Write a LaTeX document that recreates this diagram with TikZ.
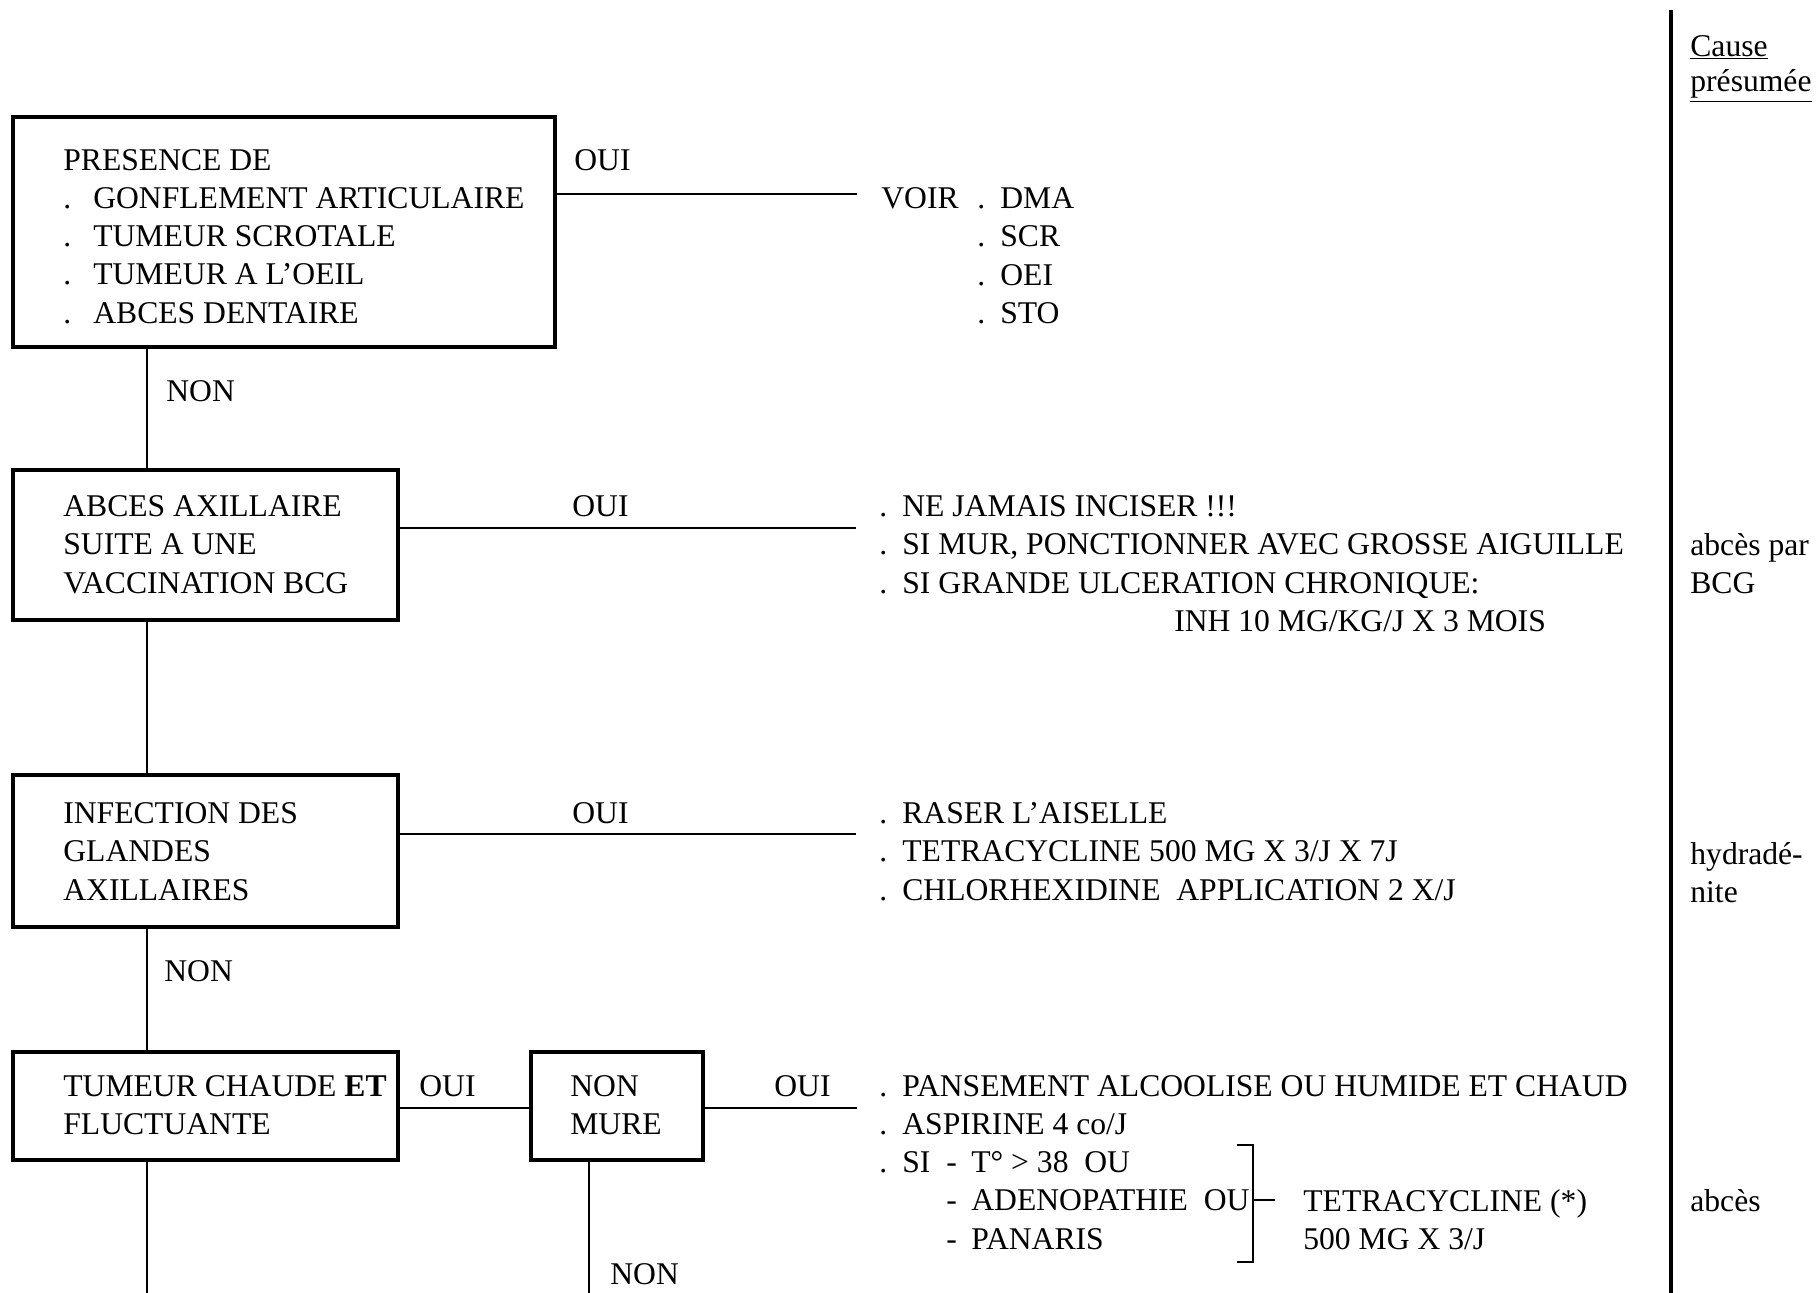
\documentclass[tikz,border=0pt]{standalone}
\usepackage{fontspec}
\setmainfont{Liberation Serif}
\usetikzlibrary{positioning}
\newcommand{\puce}[1][0.46cm]{\makebox[#1][l]{.}}
\newcommand{\bloc}[1]{\begin{tabular}[t]{@{}l@{}}#1\end{tabular}}

\begin{document}
\begin{tikzpicture}[x=0.02cm, y=-0.02cm,
  every node/.style={inner sep=0pt, font=\fontsize{18}{21.8}\selectfont},
  box/.style={draw, line width=2.2pt},
  txt/.style={anchor=base west},
  lien/.style={line width=1.6pt}]
  \clip (0,0) rectangle (1818,1292);

  % Presence de ...
  \node[box, minimum width=10.84cm, minimum height=4.6cm] (q1) at (284,232) {};
  \node[txt] (t1) at (63,170) {\bloc{PRESENCE DE\\ \puce[0.6cm]GONFLEMENT ARTICULAIRE\\ \puce[0.6cm]TUMEUR SCROTALE\\ \puce[0.6cm]TUMEUR A L'OEIL\\ \puce[0.6cm]ABCES DENTAIRE}};
  \node[txt] (oui1) at (574,170) {OUI};
  \coordinate (e1) at (857,194);
  \draw[lien] (q1.east |- e1) -- (e1);
  \node[txt] (voir) at (881,208.5) {VOIR};
  \node[txt] (r1) at (977,208.5) {\bloc{\puce DMA\\ \puce SCR\\ \puce OEI\\ \puce STO}};
  \coordinate (v1) at (147,0);
  \node[txt] (non1) at (166,401) {NON};

  % Abces axillaire
  \node[box, minimum width=7.7cm, minimum height=3cm] (q2) at (205.5,545) {};
  \draw[lien] (q1.south -| v1) -- (q2.north -| v1);
  \node[txt] (t2) at (63,516.5) {\bloc{ABCES AXILLAIRE\\ SUITE A UNE\\ VACCINATION BCG}};
  \node[txt] (oui2) at (572,516.5) {OUI};
  \coordinate (e2) at (856,528);
  \draw[lien] (q2.east |- e2) -- (e2);
  \node[txt] (r2) at (879,516.5) {\bloc{\puce NE JAMAIS INCISER !!!\\ \puce SI MUR, PONCTIONNER AVEC GROSSE AIGUILLE\\ \puce SI GRANDE ULCERATION CHRONIQUE:\\ \hspace*{5.9cm}INH 10 MG/KG/J X 3 MOIS}};

  % Infection des glandes
  \node[box, minimum width=7.7cm, minimum height=3.04cm] (q3) at (205.5,851) {};
  \draw[lien] (q2.south -| v1) -- (q3.north -| v1);
  \node[txt] (t3) at (63,823.5) {\bloc{INFECTION DES\\ GLANDES\\ AXILLAIRES}};
  \node[txt] (oui3) at (572,823.5) {OUI};
  \coordinate (e3) at (856,834);
  \draw[lien] (q3.east |- e3) -- (e3);
  \node[txt] (r3) at (879,823.5) {\bloc{\puce RASER L'AISELLE\\ \puce TETRACYCLINE 500 MG X 3/J X 7J\\ \puce CHLORHEXIDINE\ \ APPLICATION 2 X/J}};
  \node[txt] (non2) at (164,981) {NON};

  % Tumeur chaude
  \node[box, minimum width=7.7cm, minimum height=2.16cm] (q4) at (205.5,1106) {};
  \draw[lien] (q3.south -| v1) -- (q4.north -| v1);
  \node[txt] (t4) at (63,1096) {\bloc{TUMEUR CHAUDE \textbf{ET}\\ FLUCTUANTE}};
  \node[txt] (oui4) at (419,1096) {OUI};
  \node[box, minimum width=3.44cm, minimum height=2.16cm] (q5) at (617,1106) {};
  \node[txt] (t5) at (570,1096) {\bloc{NON\\ MURE}};
  \coordinate (h4) at (0,1108);
  \draw[lien] (q4.east |- h4) -- (q5.west |- h4);
  \node[txt] (oui5) at (774,1096) {OUI};
  \coordinate (e5) at (857,1108);
  \draw[lien] (q5.east |- h4) -- (e5);
  \node[txt] (r5) at (879,1096) {\bloc{\puce PANSEMENT ALCOOLISE OU HUMIDE ET CHAUD\\ \puce ASPIRINE 4 co/J\\ \puce\makebox[0.88cm][l]{SI}\makebox[0.5cm][l]{-}T° > 38\ \ OU\\ \hspace*{1.34cm}\makebox[0.5cm][l]{-}ADENOPATHIE\ \ OU\\ \hspace*{1.34cm}\makebox[0.5cm][l]{-}PANARIS}};
  \draw[lien] (1237,1145) -- (1253,1145) -- (1253,1262) -- (1237,1262);
  \coordinate (b5) at (1253,1200);
  \coordinate (s5) at (1275,1200);
  \draw[lien] (b5) -- (s5);
  \node[txt] (tetra) at (1303,1211) {\bloc{TETRACYCLINE (*)\\ 500 MG X 3/J}};
  \coordinate (f4) at (147,1300);
  \draw[lien] (q4.south -| f4) -- (f4);
  \coordinate (f5) at (589,1300);
  \draw[lien] (q5.south -| f5) -- (f5);
  \node[txt] (non3) at (610,1284) {NON};

  % Cause presumee
  \coordinate (cTop) at (1671,10);
  \coordinate (cBot) at (1671,1300);
  \draw[line width=2.4pt] (cTop) -- (cBot);
  \node[txt] (cause) at (1690,56) {\bloc{\underline{Cause}\\[-1.4pt] \underline{présumée}}};
  \node[txt] (c2) at (1690,555) {\bloc{abcès par\\ BCG}};
  \node[txt] (c3) at (1690,864) {\bloc{hydradé-\\ nite}};
  \node[txt] (c5) at (1690,1211) {abcès};

\end{tikzpicture}
\end{document}
